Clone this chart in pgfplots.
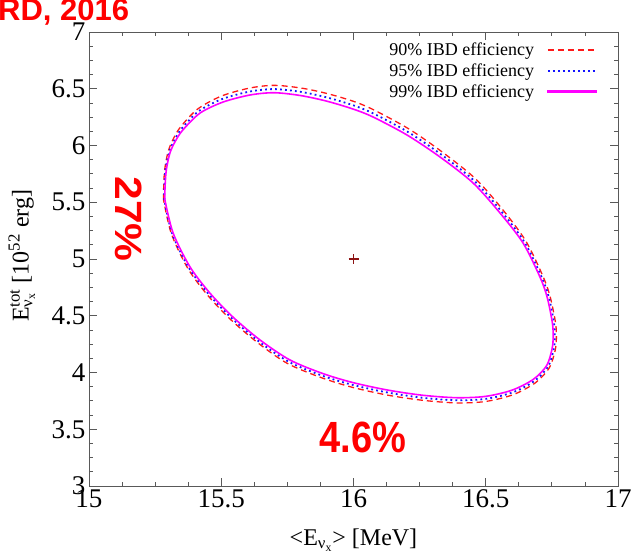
\documentclass[border=0pt]{standalone}
\usepackage{fontspec}
\setmainfont{Liberation Serif}
\newfontfamily\arialfont{Liberation Sans}
\usepackage{pgfplots}
\pgfplotsset{compat=1.18}
\definecolor{cred}{RGB}{255,25,25}
\definecolor{cblue}{RGB}{20,20,255}
\definecolor{cmag}{RGB}{255,0,255}
\definecolor{ccross}{RGB}{140,20,20}
\begin{document}
\begin{tikzpicture}
\begin{axis}[
  scale only axis, width=529pt, height=454pt,
  xmin=15, xmax=17, ymin=3, ymax=7,
  xtick={15,15.5,...,17}, ytick={3,3.5,...,7},
  minor tick num=3,
  major tick length=8pt, minor tick length=4pt,
  tick align=inside,
  axis line style={black!65, line width=0.8pt},
  every tick/.style={black!65, line width=0.8pt},
  tick label style={font=\rmfamily\mdseries\fontsize{27}{27}\selectfont},
  /pgf/number format/assume math mode=true,
  clip=false,
  xlabel={\textless E\textsubscript{ν\textsubscript{x}}\textgreater{} [MeV]},
  ylabel={E\rlap{\textsuperscript{tot}}\textsubscript{ν\textsubscript{x}}\hspace{0.15em} [10\textsuperscript{52} erg]},
  xlabel style={at={(axis description cs:0.5,-0.119)}, anchor=center, font=\rmfamily\fontsize{24}{24}\selectfont},
  ylabel style={at={(axis description cs:-0.127,0.507)}, anchor=center, font=\rmfamily\fontsize{24}{24}\selectfont},
  legend style={draw=none, fill=none, at={(rel axis cs:0.966,0.985)}, anchor=north east,
    font=\rmfamily\fontsize{18}{20}\selectfont, cells={anchor=east}, row sep=2.5pt},
  legend plot pos=right,
]
\addplot[cred, line width=1.3pt, dash pattern=on 6pt off 4pt, smooth,
  legend image code/.code={\path (0pt,0pt); \draw[cred, line width=1.3pt, dash pattern=on 6pt off 4pt] (11pt,0pt) -- (59pt,0pt);}] coordinates {
(15.282,5.520) (15.282,5.608) (15.286,5.785) (15.299,5.945) (15.318,6.055)
(15.345,6.160) (15.410,6.320) (15.500,6.435) (15.605,6.505) (15.700,6.530)
(15.805,6.505) (15.905,6.455) (16.005,6.385) (16.080,6.310) (16.210,6.145)
(16.337,5.940) (16.462,5.705) (16.564,5.435) (16.651,5.160) (16.715,4.855)
(16.743,4.672) (16.764,4.436) (16.767,4.300) (16.762,4.190) (16.740,4.040)
(16.688,3.910) (16.604,3.805) (16.500,3.745) (16.390,3.732) (16.258,3.756)
(16.126,3.802) (15.995,3.870) (15.878,3.955) (15.750,4.080) (15.638,4.262)
(15.534,4.470) (15.447,4.685) (15.373,4.920) (15.311,5.225) (15.282,5.520)};
\addlegendentry{90\% IBD efficiency}
\addplot[cblue, line width=1.8pt, dash pattern=on 1.8pt off 3.2pt, smooth,
  legend image code/.code={\path (0pt,0pt); \draw[cblue, line width=1.8pt, dash pattern=on 1.8pt off 3.2pt] (11pt,0pt) -- (59pt,0pt);}] coordinates {
(15.285,5.520) (15.285,5.608) (15.289,5.782) (15.303,5.940) (15.323,6.048)
(15.350,6.148) (15.415,6.303) (15.503,6.409) (15.607,6.475) (15.700,6.497)
(15.802,6.472) (15.902,6.422) (16.002,6.352) (16.077,6.280) (16.206,6.119)
(16.332,5.920) (16.457,5.688) (16.559,5.420) (16.646,5.150) (16.710,4.848)
(16.738,4.668) (16.758,4.436) (16.761,4.300) (16.756,4.195) (16.735,4.050)
(16.684,3.925) (16.602,3.825) (16.500,3.768) (16.390,3.755) (16.259,3.778)
(16.128,3.824) (15.998,3.890) (15.882,3.972) (15.755,4.095) (15.642,4.274)
(15.539,4.480) (15.452,4.692) (15.377,4.925) (15.314,5.227) (15.285,5.520)};
\addlegendentry{95\% IBD efficiency}
\addplot[cmag, line width=1.6pt, smooth,
  legend image code/.code={\path (0pt,0pt); \fill[cmag] (11pt,-1pt) rectangle (59pt,1pt);}] coordinates {
(15.287,5.520) (15.287,5.608) (15.292,5.780) (15.306,5.934) (15.327,6.040)
(15.355,6.137) (15.420,6.286) (15.507,6.383) (15.609,6.445) (15.700,6.465)
(15.800,6.440) (15.900,6.390) (16.000,6.320) (16.074,6.251) (16.202,6.093)
(16.327,5.899) (16.452,5.670) (16.554,5.405) (16.641,5.141) (16.705,4.841)
(16.732,4.665) (16.752,4.436) (16.755,4.300) (16.750,4.200) (16.730,4.060)
(16.680,3.940) (16.600,3.845) (16.500,3.790) (16.390,3.778) (16.260,3.800)
(16.130,3.845) (16.000,3.910) (15.885,3.990) (15.760,4.110) (15.647,4.286)
(15.544,4.489) (15.457,4.700) (15.382,4.930) (15.318,5.229) (15.287,5.520)};
\addlegendentry{99\% IBD efficiency}
\addplot[only marks, mark=+, mark size=5pt, ccross, mark options={line width=1.3pt}, forget plot] coordinates {(16,5)};
\node[rotate=-90, text=red, font=\arialfont\bfseries\fontsize{38}{38}\selectfont] at (axis cs:15.151,5.352) {\scalebox{1.12}[1]{27\%}};
\node[text=red, font=\arialfont\bfseries\fontsize{38}{38}\selectfont] at (axis cs:16.036,3.43) {\scalebox{1}[1.15]{4.6\%}};
\end{axis}
\node[anchor=north west, inner sep=0pt, text=red, font=\arialfont\bfseries\fontsize{31}{31}\selectfont] at (-91pt,487pt) {RD, 2016};
\pgfresetboundingbox
\path[use as bounding box] (-89pt,-72pt) rectangle (550pt,486pt);
\end{tikzpicture}
\end{document}
